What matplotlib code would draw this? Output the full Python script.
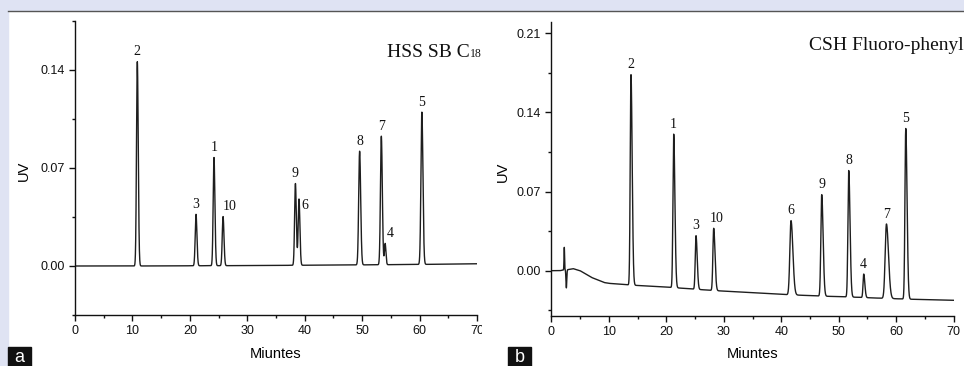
import numpy as np
import matplotlib
matplotlib.use('Agg')
import matplotlib.pyplot as plt
from matplotlib.patches import Rectangle
from matplotlib.lines import Line2D

# panel a: HSS SB C18
a_labels = ['2', '3', '1', '10', '9', '6', '8', '7', '4', '5']
a_rt = [10.85, 21.07, 24.2, 25.78, 38.38, 39.0, 49.56, 53.34, 54.0, 60.4]
a_apex = [0.1459, 0.0369, 0.0775, 0.0353, 0.0589, 0.0478, 0.0820, 0.0927, 0.0161, 0.1099]
a_sigma = [0.14, 0.14, 0.14, 0.14, 0.14, 0.14, 0.16, 0.15, 0.12, 0.16]
a_base_t = [0, 10, 30, 50, 62, 70]
a_base_v = [0.0, 0.0, 0.0003, 0.0008, 0.0012, 0.0016]

# panel b: CSH Fluoro-phenyl
b_labels = ['2', '1', '3', '10', '6', '9', '8', '4', '7', '5']
b_rt = [13.86, 21.29, 25.17, 28.25, 41.7, 47.04, 51.74, 54.35, 58.3, 61.66]
b_apex = [0.1734, 0.1208, 0.0310, 0.0375, 0.0443, 0.0673, 0.0886, -0.0030, 0.0413, 0.1258]
b_sigma = [0.13, 0.13, 0.13, 0.14, 0.2, 0.15, 0.14, 0.12, 0.22, 0.14]
b_base_t = [0, 1.5, 2.0, 3.0, 3.8, 5, 7, 9.2, 10, 14, 20, 28, 35, 41, 47, 52, 57, 62, 70]
b_base_v = [0.0, 0.0, 0.0005, 0.001, 0.0018, 0.0, -0.006, -0.0105, -0.0112, -0.0128,
            -0.0145, -0.0175, -0.0195, -0.0212, -0.0225, -0.0233, -0.0243, -0.0252, -0.0262]
# injection disturbance in b (time, height, width)
b_spike_t = [2.26, 2.62]
b_spike_h = [0.020, -0.016]
b_spike_w = [0.05, 0.07]

t = np.linspace(0, 70, 14001)


def trace(rt, apex, sigma, base_t, base_v, tail):
    base = np.interp(t, base_t, base_v)
    y = base.copy()
    for r, h, s in zip(rt, apex, sigma):
        amp = h - np.interp(r, base_t, base_v)
        sd = np.where(t < r, s, s * tail)
        y += amp * np.exp(-0.5 * ((t - r) / sd) ** 2)
    return y


ya = trace(a_rt, a_apex, a_sigma, a_base_t, a_base_v, 1.15)
yb = trace(b_rt, b_apex, b_sigma, b_base_t, b_base_v, 1.6)
for r, h, s in zip(b_spike_t, b_spike_h, b_spike_w):
    yb += h * np.exp(-0.5 * ((t - r) / s) ** 2)

W, H = 964, 366
fig = plt.figure(figsize=(W / 100, H / 100), dpi=100, facecolor='white')

sans = 'Liberation Sans'
serif = 'Liberation Serif'
line_col = '#1e1e1e'


def style(ax, y, yticks, ylim, minor):
    ax.plot(t, y, color=line_col, lw=1.0)
    ax.set_xlim(0, 70)
    ax.set_ylim(*ylim)
    ax.set_xticks(np.arange(0, 71, 10))
    ax.set_xticks(np.arange(5, 70, 10), minor=True)
    ax.set_yticks(yticks)
    ax.set_yticklabels(['%.2f' % v for v in yticks])
    ax.set_yticks(minor, minor=True)
    for s in ['top', 'right']:
        ax.spines[s].set_visible(False)
    for s in ['left', 'bottom']:
        ax.spines[s].set_linewidth(1.0)
        ax.spines[s].set_color('#111111')
    ax.tick_params(which='major', direction='out', length=4.5, width=1.0,
                   labelsize=9, pad=3, colors='#111111')
    ax.tick_params(which='minor', direction='out', length=2.5, width=1.0,
                   colors='#111111')
    for lab in ax.get_xticklabels() + ax.get_yticklabels():
        lab.set_fontfamily(sans)
    ax.set_xlabel('Miuntes', fontsize=10.5, fontfamily=sans)
    ax.set_ylabel('UV', fontsize=10.5, fontfamily=sans)
    ax.set_facecolor('none')


# panel a
ax_a = fig.add_axes([75 / W, 1 - 315 / H, 402 / W, 294 / H])
style(ax_a, ya, [0.0, 0.07, 0.14], (-0.025, 0.175), [-0.035, 0.035, 0.105, 0.175])
ax_a.xaxis.set_label_coords(0.5, -0.109)
ax_a.yaxis.set_label_coords(-0.109, 0.49)
a_off = {'6': (4, -12), '4': (4, 0), '10': (5, 0)}
for lab, r, h in zip(a_labels, a_rt, a_apex):
    dx, dy = a_off.get(lab, (0, 0))
    ax_a.annotate(lab, (r, h), xytext=(dx, 2.5 + dy), textcoords='offset points',
                  ha='center', va='bottom', fontsize=10, fontfamily=serif,
                  color='#111111')

# white backing for panel b (covers the overhang of panel a)
bg = fig.add_axes([482 / W, 0, 482 / W, 1 - 10 / H])
bg.set_facecolor('white')
bg.set_axis_off()
bg.add_patch(Rectangle((0, 0), 1, 1, transform=bg.transAxes, color='white', zorder=0))

# panel b
ax_b = fig.add_axes([551.3 / W, 1 - 316 / H, 402.4 / W, 294.3 / H])
style(ax_b, yb, [0.0, 0.07, 0.14, 0.21], (-0.0401, 0.2203),
      [-0.035, 0.035, 0.105, 0.175])
ax_b.xaxis.set_label_coords(0.5, -0.105)
ax_b.yaxis.set_label_coords(-0.1026, 0.49)
b_off = {'10': (2, 0)}
for lab, r, h in zip(b_labels, b_rt, b_apex):
    dx, dy = b_off.get(lab, (0, 0))
    ax_b.annotate(lab, (r, h), xytext=(dx, 2.5 + dy), textcoords='offset points',
                  ha='center', va='bottom', fontsize=10, fontfamily=serif,
                  color='#111111')

# column names
fig.text(386.7 / W, 1 - 57 / H, 'HSS SB C', fontsize=14, fontfamily=serif,
         va='baseline', ha='left', color='#111111')
fig.text(469.5 / W, 1 - 57 / H, '18', fontsize=8.5, fontfamily=serif,
         va='baseline', ha='left', color='#111111')
fig.text(808.7 / W, 1 - 50 / H, 'CSH Fluoro-phenyl', fontsize=14,
         fontfamily=serif, va='baseline', ha='left', color='#111111')

# frame
lav = '#dfe3f3'
fig.patches.append(Rectangle((0, 1 - 10 / H), 1, 10 / H, transform=fig.transFigure,
                             color=lav, zorder=5))
fig.patches.append(Rectangle((0, 0), 8 / W, 1, transform=fig.transFigure,
                             color=lav, zorder=5))
fig.lines.append(Line2D([8 / W, 1], [1 - 10.5 / H, 1 - 10.5 / H],
                        transform=fig.transFigure, color='#555555', lw=1.0, zorder=6))

# panel tags
for x0, tag in [(8, 'a'), (508, 'b')]:
    fig.patches.append(Rectangle((x0 / W, 0), 23 / W, 19.5 / H,
                                 transform=fig.transFigure, color='#111111', zorder=5))
    fig.text((x0 + 11.5) / W, 8.5 / H, tag, color='white', fontsize=13,
             fontfamily=sans, ha='center', va='center', zorder=7)

fig.savefig('out.png', dpi=100, facecolor='white')
